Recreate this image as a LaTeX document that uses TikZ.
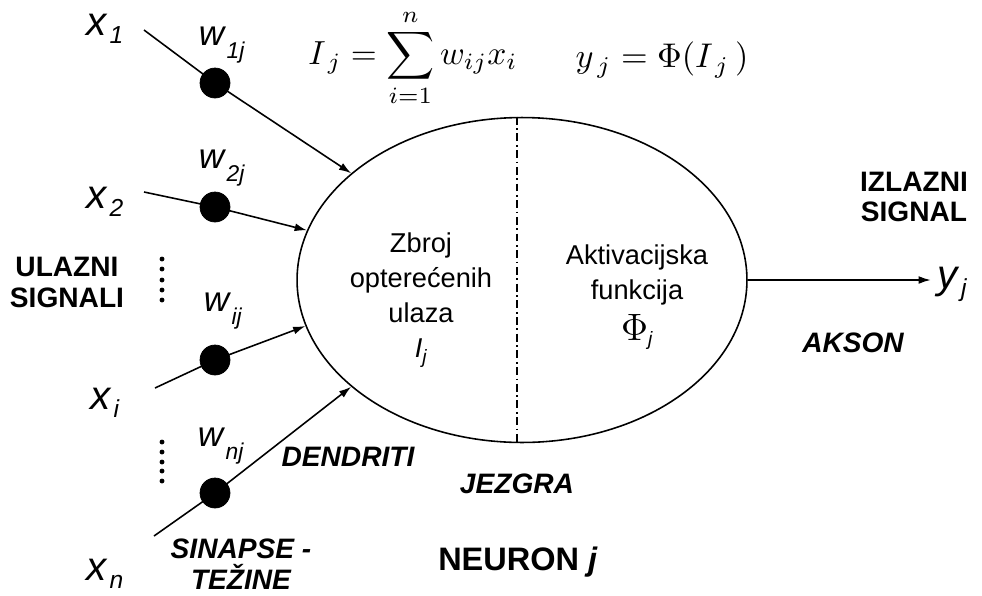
\RequirePackage{fix-cm}
\documentclass[tikz,border=0pt]{standalone}
\usepackage{fontspec}
\setmainfont{Liberation Sans}
\usepackage{graphicx}
\usepackage{tikz}
\usetikzlibrary{positioning, arrows.meta, shapes.geometric}

\newcommand{\sig}[2]{\textit{#1}\kern1pt\raisebox{-4.5pt}{\fontsize{14}{14}\selectfont\textit{#2}}}
\newcommand{\wt}[1]{\textit{w}\kern0.3pt\raisebox{-7pt}{\fontsize{13}{13}\selectfont\textit{#1}}}
\newcommand{\subj}{\raisebox{-3pt}{\fontsize{11}{11}\selectfont\textit{j}}}

\begin{document}
\begin{tikzpicture}[
    x=0.02cm, y=-0.02cm,
    syn/.style={draw, circle, fill=black, minimum size=0.6cm, inner sep=0pt},
    inp/.style={font=\fontsize{23}{26}\selectfont},
    wgt/.style={font=\fontsize{20}{22}\selectfont},
    bigtxt/.style={align=center, font=\fontsize{16}{17.6}\selectfont\bfseries},
    parttxt/.style={align=center, font=\fontsize{16}{17.6}\selectfont\bfseries\itshape},
    coretxt/.style={align=center, font=\fontsize{15.5}{20}\selectfont},
    link/.style={line width=0.9pt, -{Latex[length=7pt,width=4.5pt]}},
    divider/.style={line width=0.6pt, dash pattern=on 4.5pt off 2pt on 1pt off 2pt},
]
\useasboundingbox (0,0) rectangle (982,595);

\node[draw, ellipse, line width=0.9pt, minimum width=9cm, minimum height=6.5cm] (neuron) at (522,280) {};
\draw[divider] ([xshift=-0.1cm]neuron.north) -- ([xshift=-0.1cm]neuron.south);

\node[inp] (x1) at (105,29) {\sig{x}{1}};
\node[inp] (x2) at (105,202) {\sig{x}{2}};
\node[inp] (xi) at (105,403) {\sig{x}{i}};
\node[inp] (xn) at (105,574) {\sig{x}{n}};

\node[wgt] (w1) at (222,45) {\wt{1j}};
\node[wgt] (w2) at (222,168) {\wt{2j}};
\node[wgt] (wi) at (223,311) {\wt{ij}};
\node[wgt] (wn) at (221,446) {\wt{nj}};

\coordinate (a1) at (144,30);
\coordinate (a2) at (144,192);
\coordinate (ai) at (155,388);
\coordinate (an) at (154,536);

\node[syn] (s1) at (215,83) {};
\node[syn] (s2) at (215,207) {};
\node[syn] (si) at (215,360) {};
\node[syn] (sn) at (215,493) {};

\draw[link] (a1) -- (s1.center) -- (neuron.148);
\draw[link] (a2) -- (s2.center) -- (neuron.167);
\draw[link] (ai) -- (si.center) -- (neuron.192);
\draw[link] (an) -- (sn.center) -- (neuron.212);

\foreach \y in {259,269,280,290,300} \fill (162,\y) circle (1.4pt);
\foreach \y in {442,452,462,471,481} \fill (162,\y) circle (1.4pt);

\node[inp] (yj) at (952,284) {\sig{y}{j}};
\draw[link] (neuron.east) -- (neuron.east -| yj.west);

\node[inner sep=0pt] (suma) at (413,58) {\scalebox{1.9}{$\displaystyle I_{\,j} = \sum_{i=1}^{n} w_{ij} x_i$}};
\node[inner sep=0pt] (izlazf) at (662,60) {\scalebox{1.95}{$y_{\,j} = \Phi(I_{\,j}\,)$}};

\node[coretxt] (zbroj) at (421,300) {Zbroj\\opterećenih\\ulaza\\\textit{I}\subj};
\node[coretxt] (aktiv) at (637,297) {Aktivacijska\\funkcija\\[3pt]\scalebox{1.4}{$\Phi$}\subj};

\node[bigtxt] (ulaz) at (67,282) {ULAZNI\\SIGNALI};
\node[bigtxt] (izlaz) at (914,197) {IZLAZNI\\SIGNAL};
\node[parttxt] (akson) at (853,343) {AKSON};
\node[parttxt] (dendr) at (348,457) {DENDRITI};
\node[parttxt] (jezgra) at (517,484) {JEZGRA};
\node[parttxt] (sinap) at (241,564) {SINAPSE -\\TEŽINE};
\node[bigtxt, font=\fontsize{18.5}{20}\selectfont\bfseries] (neur) at (518,562) {NEURON \textit{j}};
\end{tikzpicture}
\end{document}
